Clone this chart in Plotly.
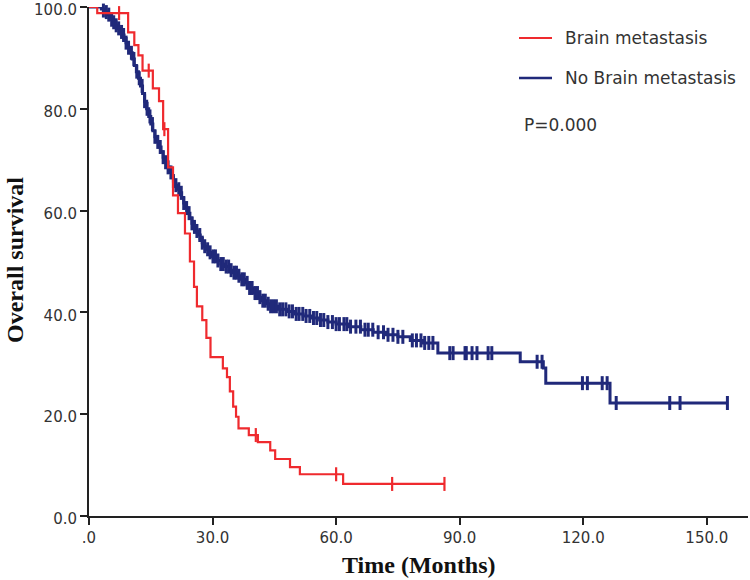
import numpy as np
import plotly.graph_objects as go

# ---------------- data ----------------
red_name = "Brain metastasis"
blue_name = "No Brain metastasis"
p_text = "P=0.000"

red_t = [0, 2, 9.5, 11, 12, 13, 15.5, 17, 18, 19.2, 20.4, 21.6, 23.3, 24.5, 25.5,
         26.2, 27.5, 28.5, 29.5, 32.5, 33.5, 34.2, 35, 35.7, 36.3, 38.8, 41, 44,
         45.2, 48.8, 51.2, 61.7]
red_s = [100, 98.8, 95, 92.5, 90.5, 87.5, 84, 81.5, 76, 68.5, 63, 59.5, 55.5, 50, 45,
         41.2, 38.5, 35, 31.2, 29, 27.3, 24.5, 21.5, 19.5, 17.2, 15.9, 14.5, 12.9,
         11.2, 9.6, 8.2, 6.3]
red_end = 86.3
red_censor = [7.3, 14.5, 18.3, 40.5, 60.0, 73.6, 86.3]

blue_t = [0, 3, 3.5, 4, 4.5, 5, 5.5, 6, 6.5, 7, 7.5, 8, 8.5, 9, 9.5, 10, 10.5, 11,
          11.5, 12, 12.5, 13, 13.5, 14, 14.5, 15, 15.5, 16, 16.5, 17, 17.5, 18,
          18.5, 19, 19.5, 20, 20.5, 21, 21.5, 22, 22.5, 23, 23.5, 24, 24.5, 25,
          25.5, 26, 26.5, 27, 27.5, 28, 28.5, 29, 29.5, 30, 31, 32, 33, 34, 35,
          36, 37, 38, 39, 40, 41, 42, 43, 44, 46, 48, 50, 52, 54, 56, 58, 60, 63,
          66, 69, 72, 75, 78, 81, 84.7, 104.7, 110.3, 110.9, 126.5]
blue_s = [100, 99.6, 99.3, 99.0, 98.5, 98.0, 97.5, 97.0, 96.4, 95.8, 95.1, 94.5,
          93.8, 93.0, 92.0, 91.0, 89.8, 88.5, 87.3, 86.0, 84.5, 83.0, 81.5, 80.0,
          78.5, 77.0, 75.7, 74.5, 73.5, 72.5, 71.5, 70.5, 69.5, 68.5, 67.5, 66.5,
          65.8, 65.0, 64.2, 63.5, 62.5, 61.5, 60.5, 59.5, 58.5, 57.5, 56.8, 56.0,
          55.2, 54.5, 53.7, 53.0, 52.4, 51.8, 51.4, 51.0, 50.2, 49.5, 49.0, 48.3,
          47.8, 47.2, 46.5, 45.8, 44.8, 43.8, 43.0, 42.3, 41.7, 41.2, 40.6, 40.2,
          39.7, 39.3, 38.9, 38.5, 38.1, 37.7, 37.2, 36.6, 36.1, 35.6, 35.2, 34.5,
          34.0, 32.0, 30.3, 29.1, 26.1, 22.2]
blue_end = 155.0
blue_censor = [3.5, 4.2, 4.8, 5.5, 6.0, 6.6, 7.2, 7.9, 8.4, 9.0, 9.6, 10.3, 10.9,
               11.6, 12.2, 12.9, 13.5, 14.1, 14.8, 15.4, 16.0, 16.7, 17.3, 18.0,
               18.6, 19.2, 19.9, 20.5, 21.1, 21.8, 22.4, 23.0, 23.7, 24.3, 25.0,
               25.6, 26.2, 26.9, 27.5, 28.1, 28.8, 29.4, 30.1, 30.7, 31.3, 32.0,
               32.6, 33.3, 33.9, 34.5, 35.2, 35.8, 36.4, 37.1, 37.7, 38.4, 39.0,
               39.6, 40.3, 40.9, 41.5, 42.2, 42.8, 43.5, 44.1, 44.8, 45.5, 46.3,
               47.0, 47.8, 48.6, 49.4, 50.3, 51.0, 51.9, 52.7, 53.6, 54.5, 55.3,
               56.2, 57.0, 58.0, 59.1, 60.0, 60.8, 61.9, 62.6, 63.5, 64.8, 65.9,
               67.0, 67.8, 68.9, 70.2, 71.5, 72.6, 73.8, 75.0, 76.2, 78.5, 79.5,
               80.6, 81.5, 82.5, 83.5, 87.6, 88.4, 91.3, 91.6, 93.0, 94.2, 96.9,
               97.8, 108.8, 110.0, 119.8, 121.0, 124.6, 125.8, 128.0, 141.0,
               143.5, 155.0]

x_ticks = [0, 30, 60, 90, 120, 150]
x_ticktext = [".0", "30.0", "60.0", "90.0", "120.0", "150.0"]
y_ticks = [0, 20, 40, 60, 80, 100]
y_ticktext = ["0.0", "20.0", "40.0", "60.0", "80.0", "100.0"]
x_title = "Time (Months)"
y_title = "Overall survival"

RED = "#ef2a2e"
BLUE = "#20297a"


def step_at(ts, ss, c):
    ts = np.asarray(ts)
    ss = np.asarray(ss)
    idx = np.searchsorted(ts, np.asarray(c), side="right") - 1
    return ss[idx]


fig = go.Figure()

# blue curve
fig.add_trace(go.Scatter(
    x=blue_t + [blue_end], y=blue_s + [blue_s[-1]], mode="lines",
    line=dict(color=BLUE, width=3, shape="hv"), cliponaxis=False,
    showlegend=False, hoverinfo="skip"))
fig.add_trace(go.Scatter(
    x=blue_censor, y=step_at(blue_t, blue_s, blue_censor), mode="markers",
    marker=dict(symbol="line-ns", size=10, line=dict(color=BLUE, width=3)),
    cliponaxis=False, showlegend=False))

# red curve
fig.add_trace(go.Scatter(
    x=red_t + [red_end], y=red_s + [red_s[-1]], mode="lines",
    line=dict(color=RED, width=2.2, shape="hv"), cliponaxis=False,
    showlegend=False, hoverinfo="skip"))
fig.add_trace(go.Scatter(
    x=red_censor, y=step_at(red_t, red_s, red_censor), mode="markers",
    marker=dict(symbol="line-ns", size=10, line=dict(color=RED, width=2.2)),
    cliponaxis=False, showlegend=False))

L, R, T, B = 89, 2, 7, 64
W, H = 750, 580
pw, ph = W - L - R, H - T - B


def px(xp):
    return (xp - L) / pw


def py(yp):
    return (H - B - yp) / ph


legend_font = dict(family="DejaVu Sans", size=17, color="#333333")
shapes = [
    dict(type="line", xref="paper", yref="paper", x0=px(519), x1=px(552),
         y0=py(38), y1=py(38), line=dict(color=RED, width=2)),
    dict(type="line", xref="paper", yref="paper", x0=px(519), x1=px(552),
         y0=py(78), y1=py(78), line=dict(color=BLUE, width=2.4)),
]
annotations = [
    dict(text=red_name, xref="paper", yref="paper", x=px(563), y=py(38),
         xanchor="left", yanchor="middle", showarrow=False, font=legend_font),
    dict(text=blue_name, xref="paper", yref="paper", x=px(563), y=py(78),
         xanchor="left", yanchor="middle", showarrow=False, font=legend_font),
    dict(text=p_text, xref="paper", yref="paper", x=px(522), y=py(125),
         xanchor="left", yanchor="middle", showarrow=False, font=legend_font),
    dict(text="<b>" + x_title + "</b>", xref="paper", yref="paper", x=px(419),
         y=py(565), xanchor="center", yanchor="middle", showarrow=False,
         font=dict(family="Liberation Serif", size=24, color="#111111")),
    dict(text="<b>" + y_title + "</b>", xref="paper", yref="paper", x=px(15),
         y=py(260), xanchor="center", yanchor="middle", textangle=-90,
         showarrow=False,
         font=dict(family="Liberation Serif", size=24, color="#111111")),
]

tick_font = dict(family="DejaVu Sans", size=15, color="#333333")
fig.update_layout(
    width=W, height=H,
    margin=dict(l=L, r=R, t=T, b=B, pad=0, autoexpand=False),
    paper_bgcolor="white", plot_bgcolor="white",
    shapes=shapes, annotations=annotations,
    xaxis=dict(range=[0, 160], tickvals=x_ticks, ticktext=x_ticktext,
               showline=True, linecolor="#222222", linewidth=2,
               ticks="outside", ticklen=7, tickwidth=1.5, tickcolor="#222222",
               showgrid=False, zeroline=False, tickfont=tick_font,
               automargin=False, ticklabeloverflow="allow"),
    yaxis=dict(range=[0, 100], tickvals=y_ticks, ticktext=y_ticktext,
               showline=True, linecolor="#222222", linewidth=2,
               ticks="outside", ticklen=7, tickwidth=1.5, tickcolor="#222222",
               showgrid=False, zeroline=False, tickfont=tick_font,
               automargin=False, ticklabeloverflow="allow",
               ticklabelshift=3),
)

fig.write_html(
    "out.html",
    config={"displayModeBar": False},
    post_script="document.body.style.margin='0';document.body.style.padding='0';",
)
